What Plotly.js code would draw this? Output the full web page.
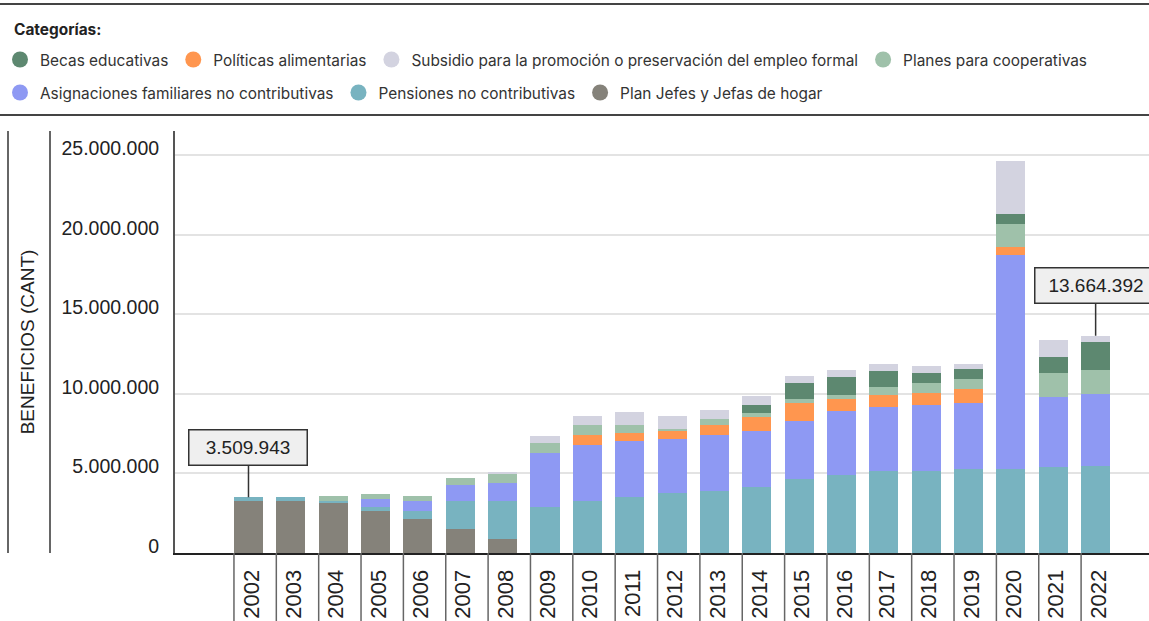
<!DOCTYPE html>
<html><head><meta charset="utf-8">
<script src="https://cdn.plot.ly/plotly-3.0.1.min.js"></script>
<style>html,body{margin:0;padding:0;background:#fff}#chart{width:1149px;height:621px}</style>
</head><body><div id="chart"></div>
<script>
const years = ['2002','2003','2004','2005','2006','2007','2008','2009','2010','2011','2012','2013','2014','2015','2016','2017','2018','2019','2020','2021','2022'];

const planJefes    = [3270000,3270000,3160000,2660000,2150000,1530000,900000,0,0,0,0,0,0,0,0,0,0,0,0,0,0];
const pensiones    = [239943,240000,140000,250000,500000,1760000,2390000,2910000,3280000,3540000,3790000,3910000,4160000,4670000,4920000,5170000,5170000,5300000,5300000,5420000,5500000];
const asignaciones = [0,0,0,500000,630000,1000000,1130000,3390000,3520000,3520000,3390000,3520000,3520000,3640000,4020000,4020000,4150000,4150000,13440000,4400000,4500000];
const politicas    = [0,0,0,0,0,0,0,0,630000,500000,500000,630000,880000,1130000,750000,750000,750000,880000,500000,0,0];
const cooperativas = [0,0,300000,310000,310000,440000,550000,630000,630000,500000,130000,380000,250000,250000,250000,500000,630000,630000,1440000,1510000,1500000];
const becas        = [0,0,0,0,0,0,0,0,0,0,0,0,500000,1000000,1130000,1000000,630000,630000,630000,1000000,1750000];
const subsidio     = [0,0,0,0,0,0,130000,440000,570000,820000,820000,570000,570000,440000,440000,440000,440000,310000,3330000,1070000,414392];

const yTicks = [0,5000000,10000000,15000000,20000000,25000000];
const labelledYears = ['2002','2022'];

// stacking order bottom -> top, with legend row and rank
const series = [
  {name:'Plan Jefes y Jefas de hogar', values:planJefes, color:'#85827a', legend:'legend2', rank:7},
  {name:'Pensiones no contributivas', values:pensiones, color:'#78b3c0', legend:'legend2', rank:6},
  {name:'Asignaciones familiares no contributivas', values:asignaciones, color:'#8e99f3', legend:'legend2', rank:5},
  {name:'Políticas alimentarias', values:politicas, color:'#ff964f', legend:'legend', rank:2},
  {name:'Planes para cooperativas', values:cooperativas, color:'#9fc1aa', legend:'legend', rank:4},
  {name:'Becas educativas', values:becas, color:'#5d8870', legend:'legend', rank:1},
  {name:'Subsidio para la promoción o preservación del empleo formal', values:subsidio, color:'#d3d3e0', legend:'legend', rank:3}
];

const traces = [];
series.forEach(s => {
  traces.push({type:'bar', x:years, y:s.values, name:s.name, marker:{color:s.color, line:{width:0}},
    showlegend:false, hoverinfo:'x+y+name'});
});
series.forEach(s => {
  traces.push({type:'scatter', mode:'markers', x:[null], y:[null], name:s.name,
    marker:{color:s.color, size:16, symbol:'circle'}, legend:s.legend, legendrank:s.rank,
    showlegend:true, hoverinfo:'skip'});
});

function fmt(n){ return String(Math.round(n)).replace(/\B(?=(\d{3})+(?!\d))/g,'.'); }
const totals = years.map((y,i) => series.reduce((a,s)=>a+s.values[i],0));

const W = 1149, H = 621, ML = 175, MT = 131, MB = 68;
const PW = W - ML, PH = H - MT - MB;
const px = X => (X - ML)/PW;
const py = Y => (H - MB - Y)/PH;

const shapes = [
  {type:'line', xref:'paper', yref:'paper', x0:px(0), x1:1, y0:py(4), y1:py(4), line:{color:'#444', width:2}},
  {type:'line', xref:'paper', yref:'paper', x0:px(0), x1:1, y0:py(115), y1:py(115), line:{color:'#444', width:2}},
  {type:'line', xref:'paper', yref:'paper', x0:px(8), x1:px(8), y0:0, y1:1, line:{color:'#666', width:2}},
  {type:'line', xref:'paper', yref:'paper', x0:px(50), x1:px(50), y0:0, y1:1, line:{color:'#666', width:2}}
];
years.forEach((y,i) => {
  shapes.push({type:'line', xref:'x', yref:'paper', x0:i-0.343, x1:i-0.343, y0:0, y1:-MB/PH, line:{color:'#666', width:1.5}});
});

const annotations = labelledYears.map(yr => {
  const i = years.indexOf(yr);
  return {x:i, y:totals[i], xref:'x', yref:'y', text:fmt(totals[i]), showarrow:true, arrowhead:0,
    arrowwidth:1.5, arrowcolor:'#333', ax:0, ay:-50, bgcolor:'#efefef', bordercolor:'#333',
    borderwidth:1.5, borderpad:6.5, width:(yr==='2022' ? 108 : 104),
    font:{family:'Liberation Sans, Arial, sans-serif', size:19, color:'#222'}};
});
annotations.push({xref:'paper', yref:'paper', x:px(12), y:py(29), xanchor:'left', yanchor:'middle',
  showarrow:false, text:'<b>Categorías:</b>', font:{family:'Inter, sans-serif', size:15.4, color:'#222'}});

const legendBase = {orientation:'h', xanchor:'left', yanchor:'top', bgcolor:'rgba(0,0,0,0)', traceorder:'normal',
  font:{family:'Inter, sans-serif', size:15.4, color:'#333'}, itemclick:false, itemdoubleclick:false};

const layout = {
  width:W, height:H,
  margin:{l:ML, r:0, t:MT, b:MB, pad:0},
  paper_bgcolor:'#fff', plot_bgcolor:'#fff',
  separators:',.',
  barmode:'stack', bargap:0.315,
  font:{family:'Liberation Sans, Arial, sans-serif', color:'#222'},
  xaxis:{type:'category', range:[-1.735, 21.26], automargin:false, showgrid:false, zeroline:false, showline:true,
    linecolor:'#222', linewidth:2, ticks:'', tickangle:-90, ticklabelstandoff:6, ticklabelshift:3,
    tickfont:{family:'Liberation Sans, Arial, sans-serif', size:22, color:'#222'}, fixedrange:true},
  yaxis:{range:[0, 26530000], automargin:false, tickvals:yTicks, tickformat:',d', showgrid:true, gridcolor:'#e3e3e3',
    gridwidth:1.5, zeroline:false, showline:true, linecolor:'#555', linewidth:2, ticks:'',
    ticklabelstandoff:10, ticklabelshift:-7,
    tickfont:{family:'Liberation Sans, Arial, sans-serif', size:19.5, color:'#222'},
    title:{text:'BENEFICIOS (CANT)', standoff:22, font:{family:'Liberation Sans, Arial, sans-serif', size:19, color:'#222'}},
    fixedrange:true},
  legend:Object.assign({}, legendBase, {x:px(0), y:py(43)}),
  legend2:Object.assign({}, legendBase, {x:px(0), y:py(76)}),
  shapes:shapes,
  annotations:annotations,
  showlegend:true
};

Plotly.newPlot('chart', traces, layout, {displayModeBar:false});
</script>
</body></html>
